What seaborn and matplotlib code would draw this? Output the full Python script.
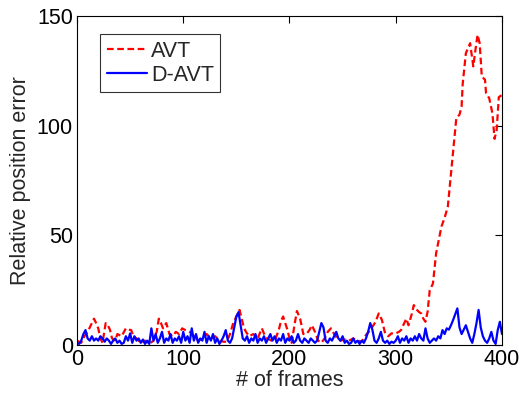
import numpy as np
import pandas as pd
import matplotlib
matplotlib.use("Agg")
import matplotlib.pyplot as plt
import seaborn as sns

# ---- data ----
avt_frames = [0, 4, 7, 10, 13, 16, 18, 20, 22, 24, 27, 29, 31, 33, 36, 38, 42, 46, 49, 51,
              53, 56, 60, 64, 68, 72, 75, 77, 79, 81, 84, 87, 90, 93, 96, 99, 102, 106, 110, 114,
              118, 122, 126, 130, 134, 138, 141, 144, 147, 150, 153, 155, 157, 159, 162, 166, 170, 174, 177, 179,
              183, 187, 190, 192, 194, 196, 198, 200, 202, 205, 207, 210, 213, 216, 219, 221, 224, 227, 230, 233,
              236, 239, 242, 245, 248, 252, 256, 260, 264, 268, 272, 276, 279, 281, 284, 287, 290, 293, 296, 300,
              303, 305, 308, 310, 312, 315, 317, 320, 322, 324, 326, 328, 330, 332, 335, 338, 343, 346, 349, 352,
              355, 357, 360, 362, 363, 366, 370, 373, 375, 377, 379, 381, 384, 385, 388, 391, 393, 395, 397, 400]
avt_values = [2, 1, 4, 6, 9, 12, 10, 7.6, 3, 1, 10, 9, 7, 3, 2, 5, 4, 7.6, 7, 6.8,
              4, 3, 1, 2, 0.5, 2, 6, 12, 10, 7.6, 10, 5, 4, 6, 5, 7.6, 6.8, 6, 4, 2,
              3, 5, 3, 4, 2, 1.5, 1.5, 5, 10, 13, 16, 12, 8, 6, 4, 5, 3, 7.6, 4, 3,
              2, 3, 7, 11, 13, 10, 7, 3, 1, 10, 15.5, 12, 5, 5, 7, 9, 6, 2, 1, 3,
              6, 7.6, 5, 3, 2, 2.5, 2, 3, 2, 1.5, 4.6, 6.8, 9, 10.6, 14.4, 11.4, 5.3, 4, 5.3, 5.3,
              6, 6.8, 10, 12, 9, 14, 18.2, 16, 15, 14.4, 12, 10.6, 15.2, 25, 28, 41.8, 54, 58, 63, 78,
              93.5, 103.4, 105, 108.7, 119, 133, 137.6, 127, 134.5, 141.4, 137.6, 122.3, 121, 114.8, 112.5, 105.6, 94, 98, 113, 114]

davt_frames = list(range(0, 401, 2))
davt_values = [1, 0.5, 2, 5, 6.8, 3, 2, 4, 2, 3,
               2, 4, 3, 1.5, 3, 2, 0.5, 2, 3, 1,
               2, 0.5, 1, 4, 2, 5.3, 1, 4, 2, 3,
               1, 2.5, 0.5, 2, 0.5, 7.6, 2, 5, 1, 3,
               6, 1, 3, 2, 5, 1, 3, 2, 4, 1,
               6, 2, 4, 1, 7.6, 2, 5, 1, 3, 2,
               6, 1, 4, 2, 5, 1, 3, 0.5, 2, 4,
               6.8, 2, 1, 3, 8, 13, 15, 9, 3, 2,
               4, 1, 3, 2, 5, 1, 3, 2, 4, 1,
               3, 5, 2, 4, 1, 3, 2, 5, 1, 3,
               2, 4, 1, 2, 5, 2, 1, 3, 2, 1,
               3, 2, 1, 2, 6, 10, 8, 2, 1, 3,
               2, 4, 6, 3, 2, 4, 1, 2, 0.5, 1,
               3, 1, 2, 0.5, 2, 1, 3, 6, 10, 7,
               2, 1, 3, 6, 2, 1, 2, 0.5, 1.5, 1,
               2, 4, 1, 3, 2, 4, 1, 3, 2, 4,
               2, 5, 3, 2, 7.6, 3, 1, 2, 3, 2,
               4, 3, 6.8, 5, 7.6, 7, 9, 11.4, 14, 16.7,
               8, 5, 7, 9, 6, 3, 1, 5, 10, 16,
               8, 4, 2, 1, 3, 6, 2, 0.5, 6.8, 10.6,
               5]

series_names = ["AVT", "D-AVT"]
x_ticks = [0, 100, 200, 300, 400]
y_ticks = [0, 50, 100, 150]

df = pd.concat([
    pd.DataFrame({"frame": avt_frames, "error": avt_values, "method": series_names[0]}),
    pd.DataFrame({"frame": davt_frames, "error": davt_values, "method": series_names[1]}),
], ignore_index=True)

sns.set_style("white")
plt.rcParams["font.family"] = ["Liberation Sans", "DejaVu Sans"]

FS = 15.5
fig = plt.figure(figsize=(5.21, 3.93), dpi=100)
ax = fig.add_axes([0.1478, 0.1221, 0.8157, 0.8372])

sns.lineplot(data=df, x="frame", y="error", hue="method", style="method",
             palette={"AVT": "#ff0000", "D-AVT": "#0000ff"},
             dashes={"AVT": (3, 1.6), "D-AVT": ""},
             linewidth=1.6, ax=ax, legend=True, estimator=None, sort=False)

ax.set_xlim(0, 400)
ax.set_ylim(0, 150)
ax.set_xticks(x_ticks)
ax.set_yticks(y_ticks)
ax.tick_params(direction="in", top=True, right=True, length=5, width=0.8,
               labelsize=FS, colors="black", pad=3)
for s in ax.spines.values():
    s.set_visible(True)
    s.set_color("black")
    s.set_linewidth(0.8)
ax.set_xlabel("# of frames", fontsize=FS, labelpad=0)
ax.set_ylabel("Relative position error", fontsize=FS, labelpad=4)

handles, labels = ax.get_legend_handles_labels()
leg = ax.legend(handles, labels, loc="upper left", bbox_to_anchor=(0.055, 0.945),
                fontsize=FS, frameon=True, fancybox=False, edgecolor="black",
                handlelength=1.85, handletextpad=0.2, borderpad=0.3, labelspacing=0.15,
                borderaxespad=0)
leg.get_frame().set_linewidth(0.8)

fig.savefig("out.png", dpi=100)
